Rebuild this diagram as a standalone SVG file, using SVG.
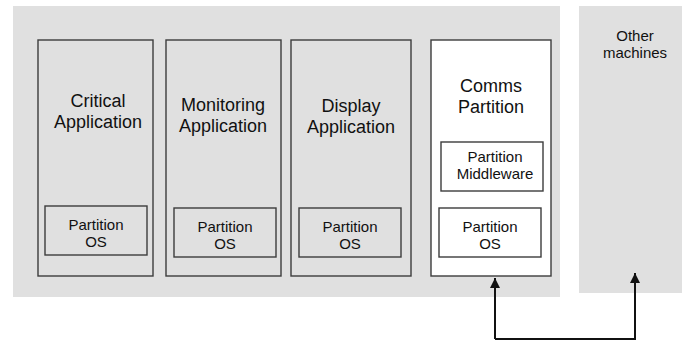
<svg xmlns="http://www.w3.org/2000/svg" width="686" height="341" viewBox="0 0 686 341">
  <defs>
    <marker id="arrow" viewBox="0 0 10 10" refX="10" refY="5" markerWidth="10" markerHeight="10" markerUnits="userSpaceOnUse" orient="auto">
      <path d="M0,0 L10,5 L0,10 Z" fill="#111"/>
    </marker>
  </defs>
  <style>
    .area { fill: #e0e0e0; stroke: none; }
    .box { fill: #e0e0e0; stroke: #3c3c3c; stroke-width: 1.4; }
    .white { fill: #ffffff; }
    .title { font-family: "Liberation Sans", Arial, sans-serif; font-size: 18px; fill: #111; text-anchor: middle; }
    .label { font-family: "Liberation Sans", Arial, sans-serif; font-size: 15px; fill: #111; text-anchor: middle; }
    .link { fill: none; stroke: #111; stroke-width: 2; }
  </style>

  <!-- host machine -->
  <g id="host">
    <rect class="area" x="13" y="6" width="547" height="291"/>
  </g>

  <!-- other machines -->
  <g id="other-machines">
    <rect class="area" x="579" y="6" width="103" height="287"/>
    <text class="label" x="635" y="41">Other</text>
    <text class="label" x="635" y="58">machines</text>
  </g>

  <g id="critical">
    <rect class="box" x="38" y="40" width="115" height="236"/>
    <text class="title" x="98" y="107">Critical</text>
    <text class="title" x="98" y="128">Application</text>
    <g id="critical-os">
      <rect class="box" x="45" y="206" width="102" height="49"/>
      <text class="label" x="96" y="230">Partition</text>
      <text class="label" x="96" y="247">OS</text>
    </g>
  </g>

  <g id="monitoring">
    <rect class="box" x="166" y="40" width="115" height="236"/>
    <text class="title" x="223" y="111">Monitoring</text>
    <text class="title" x="223" y="132">Application</text>
    <g id="monitoring-os">
      <rect class="box" x="174" y="208" width="102" height="49"/>
      <text class="label" x="225" y="232">Partition</text>
      <text class="label" x="225" y="249">OS</text>
    </g>
  </g>

  <g id="display">
    <rect class="box" x="291" y="40" width="120" height="236"/>
    <text class="title" x="351" y="112">Display</text>
    <text class="title" x="351" y="133">Application</text>
    <g id="display-os">
      <rect class="box" x="299" y="208" width="102" height="49"/>
      <text class="label" x="350" y="232">Partition</text>
      <text class="label" x="350" y="249">OS</text>
    </g>
  </g>

  <g id="comms">
    <rect class="box white" x="431" y="40" width="120" height="236"/>
    <text class="title" x="491" y="92">Comms</text>
    <text class="title" x="491" y="113">Partition</text>
    <g id="comms-middleware">
      <rect class="box white" x="441" y="142" width="102" height="49"/>
      <text class="label" x="495" y="162">Partition</text>
      <text class="label" x="495" y="179">Middleware</text>
    </g>
    <g id="comms-os">
      <rect class="box white" x="439" y="208" width="102" height="49"/>
      <text class="label" x="490" y="232">Partition</text>
      <text class="label" x="490" y="249">OS</text>
    </g>
  </g>

  <!-- network link between comms partition and other machines -->
  <g id="connectors">
    <path class="link" d="M495,339 L495,278" marker-end="url(#arrow)"/>
    <path class="link" d="M495,339 L635,339 L635,273" marker-end="url(#arrow)"/>
  </g>
</svg>
